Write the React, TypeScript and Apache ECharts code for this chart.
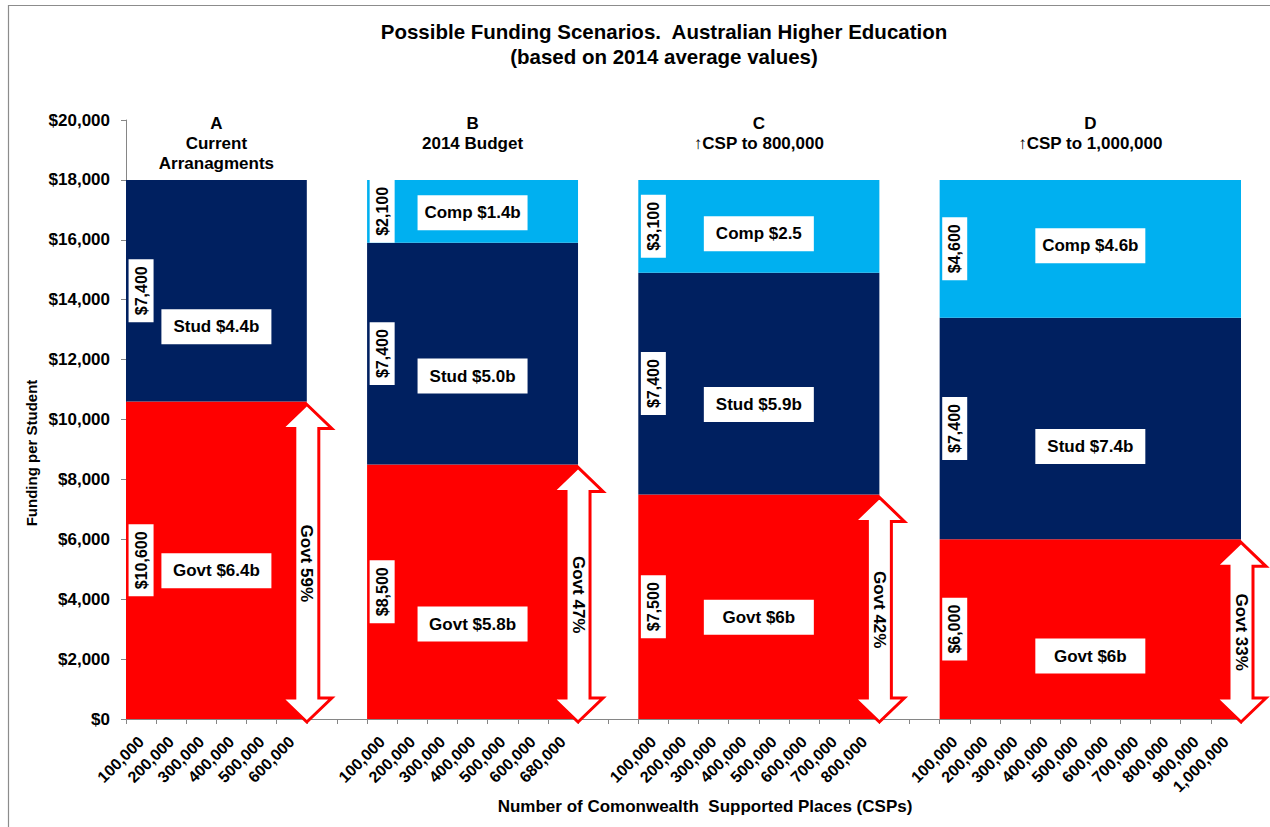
import React, { useEffect, useRef } from "react";
import * as echarts from "echarts";

const FONT = '"Liberation Sans", Arial, Helvetica, sans-serif';

const titleLines = ["Possible Funding Scenarios.  Australian Higher Education", "(based on 2014 average values)"];
const yAxisTitle = "Funding per Student";
const xAxisTitle = "Number of Comonwealth  Supported Places (CSPs)";

const panelNames = ["A", "B", "C", "D"];
const panelSubtitles = ["Current\nArranagments", "2014 Budget", "\u2191CSP to 800,000", "\u2191CSP to 1,000,000"];
const panelCategories = [
  ["100,000", "200,000", "300,000", "400,000", "500,000", "600,000"],
  ["100,000", "200,000", "300,000", "400,000", "500,000", "600,000", "680,000"],
  ["100,000", "200,000", "300,000", "400,000", "500,000", "600,000", "700,000", "800,000"],
  ["100,000", "200,000", "300,000", "400,000", "500,000", "600,000", "700,000", "800,000", "900,000", "1,000,000"],
];
const GAP_CATEGORIES = 2;

const govtPerStudent = [10600, 8500, 7500, 6000];
const studPerStudent = [7400, 7400, 7400, 7400];
const compPerStudent = [0, 2100, 3100, 4600];

const govtTotals = ["Govt $6.4b", "Govt $5.8b", "Govt $6b", "Govt $6b"];
const studTotals = ["Stud $4.4b", "Stud $5.0b", "Stud $5.9b", "Stud $7.4b"];
const compTotals = ["", "Comp $1.4b", "Comp $2.5", "Comp $4.6b"];
const govtShares = ["Govt 59%", "Govt 47%", "Govt 42%", "Govt 33%"];

// value (in $) at which each total label is centred
const govtTotalAt = [4950, 3170, 3400, 2100];
const studTotalAt = [13100, 11450, 10500, 9100];
const compTotalAt = [0, 16900, 16200, 15800];

const Y_MIN = 0;
const Y_MAX = 20000;
const Y_INTERVAL = 2000;

const COLORS = { govt: "#FF0000", stud: "#002060", comp: "#00B0F0" };

// ---- derived structures ----
const categories: string[] = [];
const panelStart: number[] = [];
const panelEnd: number[] = [];
panelCategories.forEach((cats, p) => {
  if (p > 0) {
    for (let g = 0; g < GAP_CATEGORIES; g++) categories.push("");
  }
  panelStart.push(categories.length);
  cats.forEach((c) => categories.push(c));
  panelEnd.push(categories.length - 1);
});

const money = (v: number) => "$" + v.toString().replace(/\B(?=(\d{3})+(?!\d))/g, ",");

// one block per panel: [firstCategory, base, lastCategory, top]
const blocks = (vals: number[], bases: number[]) =>
  vals
    .map((v, p) => (v > 0 ? [panelStart[p], bases[p], panelEnd[p], bases[p] + v] : null))
    .filter((d) => d !== null) as number[][];

const zeros = govtPerStudent.map(() => 0);
const govtBlocks = blocks(govtPerStudent, zeros);
const studBlocks = blocks(studPerStudent, govtPerStudent);
const compBlocks = blocks(
  compPerStudent,
  govtPerStudent.map((g, p) => g + studPerStudent[p])
);

const valueLabelData: number[][] = [];
const valueLabelTexts: string[] = [];
const totalLabelData: number[][] = [];
const totalLabelTexts: string[] = [];
panelCategories.forEach((_, p) => {
  const segs = [
    { v: govtPerStudent[p], base: 0, name: govtTotals[p], at: govtTotalAt[p] },
    { v: studPerStudent[p], base: govtPerStudent[p], name: studTotals[p], at: studTotalAt[p] },
    { v: compPerStudent[p], base: govtPerStudent[p] + studPerStudent[p], name: compTotals[p], at: compTotalAt[p] },
  ];
  segs.forEach((s) => {
    if (s.v > 0) {
      valueLabelData.push([panelStart[p], s.base + s.v / 2]);
      valueLabelTexts.push(money(s.v));
      totalLabelData.push([panelStart[p], s.at, panelEnd[p]]);
      totalLabelTexts.push(s.name);
    }
  });
});

const arrowData = panelCategories.map((_, p) => [panelEnd[p], govtPerStudent[p]]);
const headerData = panelCategories.map((_, p) => [panelStart[p], Y_MAX, panelEnd[p]]);

export default function App() {
  const ref = useRef<HTMLDivElement>(null);

  useEffect(() => {
    if (!ref.current) return;
    const chart = echarts.init(ref.current, undefined, { renderer: "svg" });

    const blockSeries = (name: string, data: number[][], color: string) => ({
      name,
      type: "custom",
      clip: false,
      silent: true,
      z: 2,
      data,
      encode: { x: [0, 2], y: [1, 3] },
      renderItem: (_params: any, api: any) => {
        const band = api.size([1, 0])[0];
        const a = api.coord([api.value(0), api.value(3)]);
        const b = api.coord([api.value(2), api.value(1)]);
        const x0 = a[0] - band / 2;
        const x1 = b[0] + band / 2;
        return {
          type: "rect",
          shape: { x: x0, y: a[1], width: x1 - x0, height: b[1] - a[1] },
          style: { fill: color },
        };
      },
    });

    const option: any = {
      animation: false,
      backgroundColor: "#FFFFFF",
      textStyle: { fontFamily: FONT },
      title: {
        text: titleLines.join("\n"),
        left: 659,
        textAlign: "center",
        top: 14,
        textStyle: { fontFamily: FONT, fontSize: 20.5, fontWeight: "bold", color: "#000", lineHeight: 25 },
      },
      grid: { left: 126, right: 29, top: 120, bottom: 108, containLabel: false },
      xAxis: {
        type: "category",
        data: categories,
        boundaryGap: true,
        axisLine: { show: true, lineStyle: { color: "#868686", width: 1 } },
        axisTick: { show: true, interval: 0, length: 5, lineStyle: { color: "#868686" } },
        axisLabel: {
          interval: 0,
          rotate: 45,
          margin: 20,
          color: "#000",
          fontFamily: FONT,
          fontWeight: "bold",
          fontSize: 16,
        },
        splitLine: { show: false },
      },
      yAxis: {
        type: "value",
        min: Y_MIN,
        max: Y_MAX,
        interval: Y_INTERVAL,
        axisLine: { show: true, lineStyle: { color: "#868686", width: 1 } },
        axisTick: { show: true, length: 5, lineStyle: { color: "#868686" } },
        axisLabel: {
          margin: 16,
          color: "#000",
          fontFamily: FONT,
          fontWeight: "bold",
          fontSize: 17,
          formatter: (v: number) => money(v),
        },
        splitLine: { show: false },
      },
      graphic: [
        {
          type: "rect",
          silent: true,
          shape: { x: 8.5, y: 5.5, width: 1400, height: 1000 },
          style: { fill: "none", stroke: "#8C8C8C", lineWidth: 1.2 },
          z: -1,
        },
        {
          type: "text",
          x: 31,
          y: 453,
          rotation: Math.PI / 2,
          style: {
            text: yAxisTitle,
            fill: "#000",
            fontFamily: FONT,
            fontSize: 15,
            fontWeight: "bold",
            align: "center",
            verticalAlign: "middle",
          },
        },
        {
          type: "text",
          x: 705,
          y: 806,
          style: {
            text: xAxisTitle,
            fill: "#000",
            fontFamily: FONT,
            fontSize: 17,
            fontWeight: "bold",
            align: "center",
            verticalAlign: "middle",
          },
        },
      ],
      series: [
        blockSeries("Govt", govtBlocks, COLORS.govt),
        blockSeries("Stud", studBlocks, COLORS.stud),
        blockSeries("Comp", compBlocks, COLORS.comp),
        {
          name: "headers",
          type: "custom",
          clip: false,
          silent: true,
          z: 6,
          data: headerData,
          encode: { x: 0, y: 1 },
          renderItem: (params: any, api: any) => {
            const p = params.dataIndex;
            const a = api.coord([api.value(0), api.value(1)]);
            const b = api.coord([api.value(2), api.value(1)]);
            return {
              type: "text",
              x: (a[0] + b[0]) / 2,
              y: a[1] - 7,
              style: {
                text: panelNames[p] + "\n" + panelSubtitles[p],
                fill: "#000",
                fontFamily: FONT,
                fontSize: 17,
                fontWeight: "bold",
                lineHeight: 20,
                align: "center",
                verticalAlign: "top",
              },
            };
          },
        },
        {
          name: "values",
          type: "custom",
          clip: false,
          silent: true,
          z: 6,
          data: valueLabelData,
          encode: { x: 0, y: 1 },
          renderItem: (params: any, api: any) => {
            const c = api.coord([api.value(0), api.value(1)]);
            return {
              type: "text",
              x: c[0],
              y: c[1],
              rotation: Math.PI / 2,
              style: {
                text: valueLabelTexts[params.dataIndex],
                fill: "#000",
                fontFamily: FONT,
                fontSize: 16,
                fontWeight: "bold",
                lineHeight: 17,
                align: "center",
                verticalAlign: "middle",
                backgroundColor: "#FFFFFF",
                padding: [4, 7, 4, 7],
              },
            };
          },
        },
        {
          name: "totals",
          type: "custom",
          clip: false,
          silent: true,
          z: 6,
          data: totalLabelData,
          encode: { x: 0, y: 1 },
          renderItem: (params: any, api: any) => {
            const a = api.coord([api.value(0), api.value(1)]);
            const b = api.coord([api.value(2), api.value(1)]);
            return {
              type: "text",
              x: (a[0] + b[0]) / 2,
              y: a[1],
              style: {
                text: totalLabelTexts[params.dataIndex],
                fill: "#000",
                fontFamily: FONT,
                fontSize: 17,
                fontWeight: "bold",
                lineHeight: 17,
                width: 94,
                align: "center",
                verticalAlign: "middle",
                backgroundColor: "#FFFFFF",
                padding: [9, 8, 9, 8],
              },
            };
          },
        },
        {
          name: "shares",
          type: "custom",
          clip: false,
          silent: true,
          z: 7,
          data: arrowData,
          encode: { x: 0, y: 1 },
          renderItem: (params: any, api: any) => {
            const band = api.size([1, 0])[0];
            const top = api.coord([api.value(0), api.value(1)]);
            const bot = api.coord([api.value(0), 0]);
            const cx = top[0] + band / 2;
            const yt = top[1] + 3;
            const yb = bot[1] + 3;
            const hw = 25;
            const sw = 12;
            const hl = 24;
            const pts = [
              [cx, yt],
              [cx + hw, yt + hl],
              [cx + sw, yt + hl],
              [cx + sw, yb - hl],
              [cx + hw, yb - hl],
              [cx, yb],
              [cx - hw, yb - hl],
              [cx - sw, yb - hl],
              [cx - sw, yt + hl],
              [cx - hw, yt + hl],
            ];
            return {
              type: "group",
              children: [
                {
                  type: "polygon",
                  shape: { points: pts },
                  style: { fill: "#FFFFFF", stroke: "#FF0000", lineWidth: 3, lineJoin: "miter" },
                },
                {
                  type: "text",
                  x: cx,
                  y: (yt + yb) / 2,
                  rotation: -Math.PI / 2,
                  style: {
                    text: govtShares[params.dataIndex],
                    fill: "#000",
                    fontFamily: FONT,
                    fontSize: 17,
                    fontWeight: "bold",
                    align: "center",
                    verticalAlign: "middle",
                  },
                },
              ],
            };
          },
        },
      ],
    };

    chart.setOption(option);
    return () => chart.dispose();
  }, []);

  return (
    <div
      ref={ref}
      style={{ position: "fixed", left: 0, top: 0, width: 1270, height: 827, background: "#fff" }}
    />
  );
}
